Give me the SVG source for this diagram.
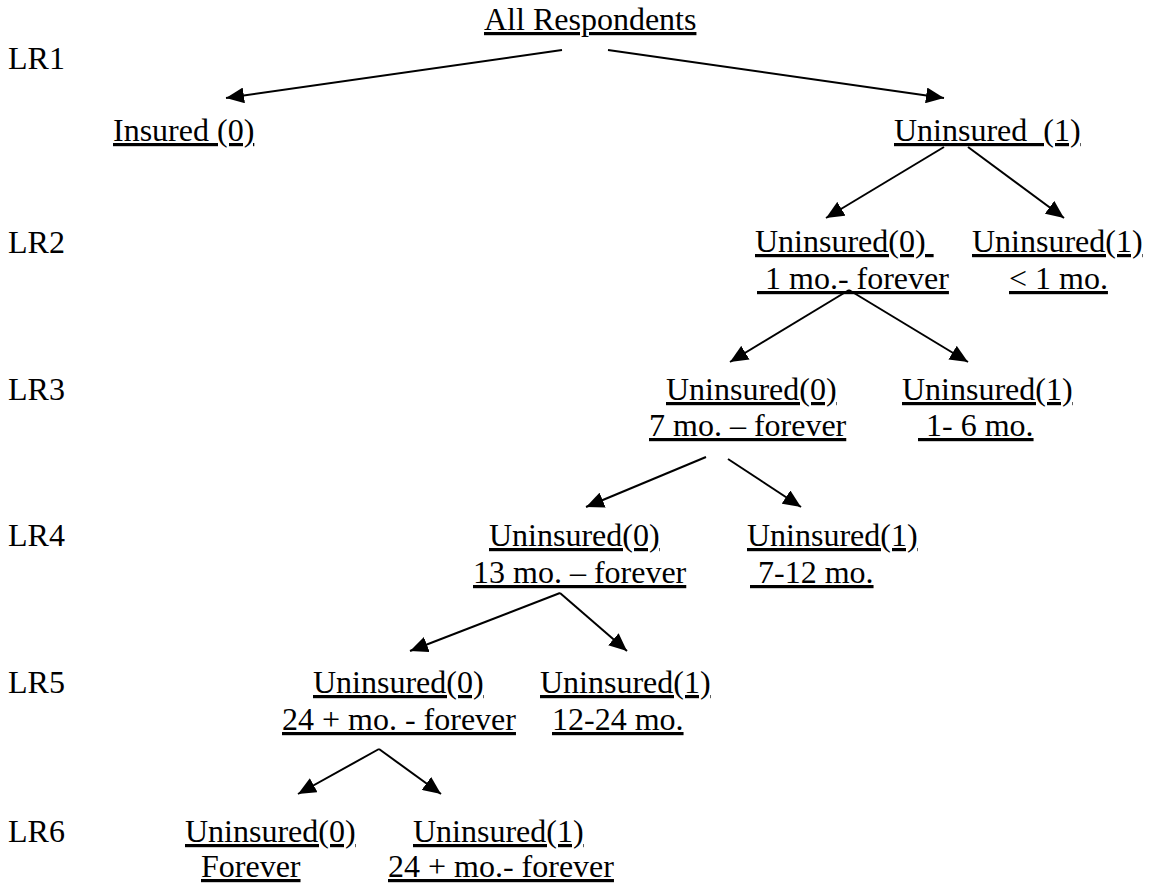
<svg xmlns="http://www.w3.org/2000/svg" width="1149" height="885" viewBox="0 0 1149 885">
<style>
text{font-family:"Liberation Serif","Times New Roman",serif;font-size:32px;fill:#000;white-space:pre}
.u{text-decoration:underline}
.c line{stroke:#000;stroke-width:2;marker-end:url(#ah)}
</style>
<defs>
<marker id="ah" markerUnits="userSpaceOnUse" markerWidth="19" markerHeight="16" refX="18" refY="8" orient="auto">
<path d="M0,0 L18,8 L0,16 Z" fill="#000"/>
</marker>
</defs>
<rect width="1149" height="885" fill="#fff"/>
<g id="levels">
<text x="8" y="69">LR1</text>
<text x="8" y="253">LR2</text>
<text x="8" y="400">LR3</text>
<text x="8" y="546">LR4</text>
<text x="8" y="693">LR5</text>
<text x="8" y="842">LR6</text>
</g>
<g id="root"><text class="u" x="484" y="30">All Respondents</text></g>
<g id="insured"><text class="u" x="113" y="141">Insured (0)</text></g>
<g id="uninsured"><text class="u" x="894" y="141">Uninsured  (1)</text></g>
<g id="lr2-0"><text class="u" x="755" y="252">Uninsured(0) </text><text class="u" x="757" y="289"> 1 mo.- forever</text></g>
<g id="lr2-1"><text class="u" x="972" y="252">Uninsured(1)</text><text class="u" x="1009" y="289">&lt; 1 mo.</text></g>
<g id="lr3-0"><text class="u" x="666" y="400">Uninsured(0)</text><text class="u" x="649" y="436">7 mo. – forever</text></g>
<g id="lr3-1"><text class="u" x="902" y="400">Uninsured(1)</text><text class="u" x="918" y="436"> 1- 6 mo.</text></g>
<g id="lr4-0"><text class="u" x="489" y="546">Uninsured(0)</text><text class="u" x="473" y="583">13 mo. – forever</text></g>
<g id="lr4-1"><text class="u" x="747" y="546">Uninsured(1)</text><text class="u" x="750" y="583"> 7-12 mo.</text></g>
<g id="lr5-0"><text class="u" x="313" y="693">Uninsured(0)</text><text class="u" x="282" y="730">24 + mo. - forever</text></g>
<g id="lr5-1"><text class="u" x="540" y="693">Uninsured(1)</text><text class="u" x="552" y="730">12-24 mo.</text></g>
<g id="lr6-0"><text class="u" x="185" y="842">Uninsured(0)</text><text class="u" x="201" y="877">Forever</text></g>
<g id="lr6-1"><text class="u" x="413" y="842">Uninsured(1)</text><text class="u" x="388" y="877">24 + mo.- forever</text></g>
<g id="connectors" class="c">
<line x1="562" y1="50" x2="226" y2="98"/>
<line x1="608" y1="50" x2="944" y2="98"/>
<line x1="944" y1="147" x2="826" y2="218"/>
<line x1="968" y1="147" x2="1064" y2="218"/>
<line x1="849" y1="290" x2="730" y2="362"/>
<line x1="849" y1="290" x2="968" y2="362"/>
<line x1="706" y1="457" x2="586" y2="507"/>
<line x1="728" y1="459" x2="801" y2="507"/>
<line x1="560" y1="593" x2="410" y2="651"/>
<line x1="560" y1="593" x2="627" y2="651"/>
<line x1="379" y1="749" x2="298" y2="794"/>
<line x1="379" y1="749" x2="441" y2="794"/>
</g>
</svg>
